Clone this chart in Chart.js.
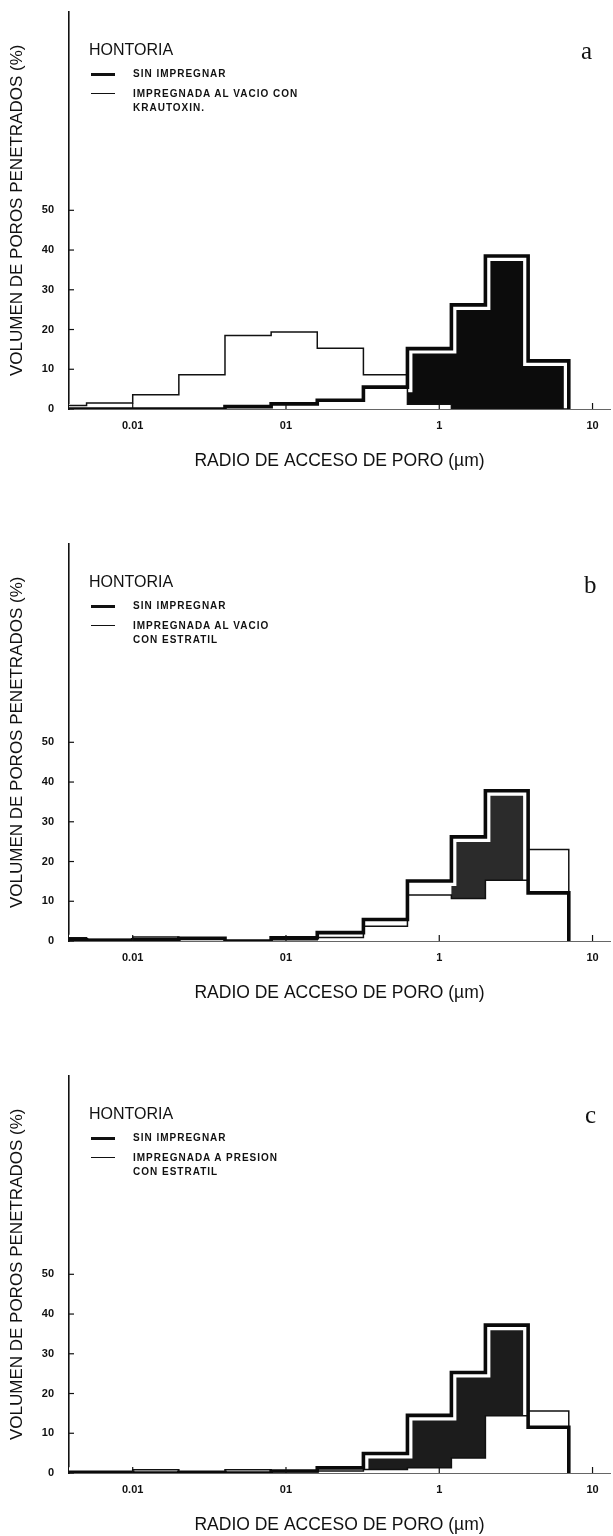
<!DOCTYPE html>
<html>
<head>
<meta charset="utf-8">
<script src="https://cdn.jsdelivr.net/npm/chart.js@4.4.1/dist/chart.umd.min.js"></script>
<style>
  body { margin: 0; background: #fff; overflow: hidden; }
  #page { position: relative; width: 613px; height: 1536px; font-family: 'Liberation Sans', Arial, sans-serif; color: #111; }
  .panel { position: absolute; left: 0; width: 613px; height: 532px; }
  .panel canvas { position: absolute; left: 0; top: -10px; }
  .site { position: absolute; left: 89px; top: 40px; font-size: 16px; line-height: 20px; }
  .letter { position: absolute; font-family: 'Liberation Serif', serif; font-size: 25px; line-height: 26px; }
  .lg-line { position: absolute; left: 91px; width: 24px; background: #111; }
  .lg-text { position: absolute; left: 133px; font-size: 10px; font-weight: bold; letter-spacing: 1px; line-height: 14px; white-space: nowrap; }
</style>
</head>
<body>
<div id="page"></div>
<script>
// límites de clase del radio de acceso (µm), comunes a las tres figuras
const edges = [0.00384, 0.005, 0.01, 0.02, 0.04, 0.08, 0.16, 0.32, 0.62, 1.2, 2.0, 3.8, 7.0];

const xTickVals = [0.01, 0.1, 1, 10];
const xTickLabels = ['0.01', '01', '1', '10'];
const yTickVals = [0, 10, 20, 30, 40, 50];

// a — Krautoxin al vacío
const sinA   = [0, 0, 0, 0, 0.6, 1.3, 2.2, 5.5, 15.2, 26.2, 38.5, 12.1];
const impA   = [0.9, 1.5, 3.6, 8.6, 18.5, 19.4, 15.3, 8.6, 1.2, 0, 0, 0];
const shadeA = [0, 0, 0, 0, 0, 0, 0, 0, 15.2, 26.2, 38.5, 12.1];

// b — Estratil al vacío
const sinB   = [0.3, 0.2, 0.3, 0.7, 0, 0.8, 2.1, 5.4, 15.1, 26.2, 37.8, 12.1];
const impB   = [0.8, 0.4, 1.0, 0.4, 0, 0.3, 0.9, 3.7, 11.6, 10.7, 15.3, 23.0];
const shadeB = [0, 0, 0, 0, 0, 0, 0, 0, 0, 26.2, 37.8, 0];

// c — Estratil a presión
const sinC   = [0.2, 0.2, 0, 0.2, 0, 0.5, 1.3, 4.9, 14.5, 25.3, 37.2, 11.5];
const impC   = [0.2, 0.3, 0.8, 0.2, 0.8, 0.3, 0.5, 0.9, 1.3, 3.8, 14.4, 15.6];
const shadeC = [0, 0, 0, 0, 0, 0, 0, 4.9, 14.5, 25.3, 37.2, 0];

const siteName = 'HONTORIA';
const thickLabel = 'SIN IMPREGNAR';
const thinLabelsA = ['IMPREGNADA AL VACIO CON', 'KRAUTOXIN.'];
const thinLabelsB = ['IMPREGNADA AL VACIO', 'CON ESTRATIL'];
const thinLabelsC = ['IMPREGNADA A PRESION', 'CON ESTRATIL'];
const xTitle = 'RADIO DE ACCESO DE PORO (µm)';
const yTitle = 'VOLUMEN DE POROS PENETRADOS (%)';

const panels = [
  { top: 0,    letter: 'a', lx: 581, ly: 38, sin: sinA, imp: impA, shade: shadeA, thin: thinLabelsA, shadeColor: '#0c0c0c' },
  { top: 532,  letter: 'b', lx: 584, ly: 40, sin: sinB, imp: impB, shade: shadeB, thin: thinLabelsB, shadeColor: '#2b2b2b' },
  { top: 1064, letter: 'c', lx: 585, ly: 38, sin: sinC, imp: impC, shade: shadeC, thin: thinLabelsC, shadeColor: '#1c1c1c' }
];

function steps(values) {
  const pts = values.map((v, i) => ({ x: edges[i], y: v }));
  pts.push({ x: edges[values.length], y: 0 });
  return pts;
}

// marcas de escala hacia dentro, como en el original
const innerTicks = {
  id: 'innerTicks',
  afterDraw(chart) {
    const { ctx, chartArea, scales } = chart;
    ctx.save();
    ctx.strokeStyle = '#111';
    ctx.lineWidth = 1.2;
    for (const v of yTickVals) {
      const y = scales.y.getPixelForValue(v);
      ctx.beginPath();
      ctx.moveTo(chartArea.left, y);
      ctx.lineTo(chartArea.left + 5, y);
      ctx.stroke();
    }
    for (const v of xTickVals) {
      const x = scales.x.getPixelForValue(v);
      ctx.beginPath();
      ctx.moveTo(x, chartArea.bottom);
      ctx.lineTo(x, chartArea.bottom - 6);
      ctx.stroke();
    }
    ctx.restore();
  }
};

function addDiv(parent, cls, text, style) {
  const d = document.createElement('div');
  d.className = cls;
  if (text) d.textContent = text;
  Object.assign(d.style, style || {});
  parent.appendChild(d);
  return d;
}

function makePanel(p) {
  const page = document.getElementById('page');
  const box = addDiv(page, 'panel', '', { top: p.top + 'px' });

  const canvas = document.createElement('canvas');
  canvas.width = 613;
  canvas.height = 542;
  box.appendChild(canvas);

  addDiv(box, 'site', siteName);
  addDiv(box, 'letter', p.letter, { left: p.lx + 'px', top: p.ly + 'px' });
  addDiv(box, 'lg-line', '', { top: '73px', height: '3.4px' });
  addDiv(box, 'lg-text', thickLabel, { top: '67px' });
  addDiv(box, 'lg-line', '', { top: '93px', height: '1.4px' });
  addDiv(box, 'lg-text', p.thin[0], { top: '87px' });
  addDiv(box, 'lg-text', p.thin[1], { top: '101px' });

  new Chart(canvas, {
    type: 'line',
    data: {
      datasets: [
        {
          label: 'shade',
          data: steps(p.shade),
          stepped: true,
          borderWidth: 0,
          pointRadius: 0,
          fill: { target: 2, above: p.shadeColor, below: 'rgba(0,0,0,0)' },
          order: 4
        },
        {
          label: 'halo',
          data: steps(p.sin),
          stepped: true,
          borderColor: '#fff',
          borderWidth: 10,
          pointRadius: 0,
          fill: false,
          order: 3
        },
        {
          label: p.thin.join(' '),
          data: steps(p.imp),
          stepped: true,
          borderColor: '#111',
          borderWidth: 1.5,
          pointRadius: 0,
          fill: false,
          order: 2
        },
        {
          label: thickLabel,
          data: steps(p.sin),
          stepped: true,
          borderColor: '#0a0a0a',
          borderWidth: 3.6,
          borderJoinStyle: 'miter',
          pointRadius: 0,
          fill: false,
          order: 1
        }
      ]
    },
    options: {
      responsive: false,
      animation: false,
      events: [],
      layout: { padding: { top: 0, right: 3, left: 0, bottom: 0 } },
      plugins: { legend: { display: false }, tooltip: { enabled: false } },
      scales: {
        x: {
          type: 'logarithmic',
          min: 0.00384,
          max: 13,
          z: 1,
          afterFit: s => { s.height = 123; },
          afterBuildTicks: s => { s.ticks = xTickVals.map(v => ({ value: v })); },
          grid: { drawOnChartArea: false, drawTicks: false },
          border: { display: true, color: '#666', width: 1, dash: [9, 5] },
          ticks: {
            autoSkip: false,
            maxRotation: 0,
            padding: 10,
            color: '#111',
            font: { family: 'Liberation Sans', size: 11, weight: 'bold' },
            callback: (v, i) => xTickLabels[i]
          },
          title: {
            display: true,
            text: xTitle,
            color: '#111',
            font: { family: 'Liberation Sans', size: 17.5 },
            padding: { top: 0, bottom: 60 }
          }
        },
        y: {
          min: 0,
          max: 100,
          z: 1,
          afterFit: s => { s.width = 69; },
          afterBuildTicks: s => { s.ticks = yTickVals.map(v => ({ value: v })); },
          grid: { drawOnChartArea: false, drawTicks: false },
          border: { display: true, color: '#111', width: 1.6 },
          ticks: {
            padding: 15,
            color: '#111',
            font: { family: 'Liberation Sans', size: 11, weight: 'bold' }
          },
          title: {
            display: true,
            text: yTitle,
            color: '#111',
            font: { family: 'Liberation Sans', size: 17 },
            padding: { top: 7, bottom: 0 }
          }
        }
      }
    },
    plugins: [innerTicks]
  });
}

panels.forEach(makePanel);
</script>
</body>
</html>
